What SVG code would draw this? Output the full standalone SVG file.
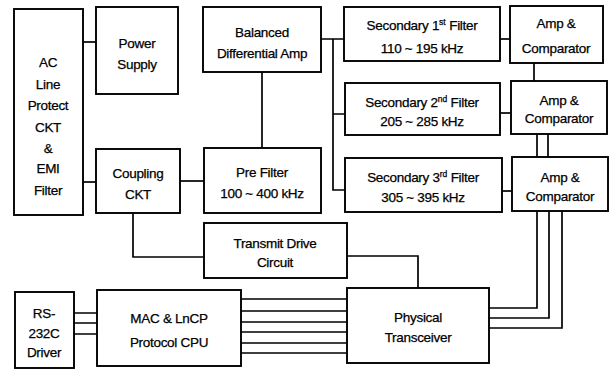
<svg xmlns="http://www.w3.org/2000/svg" width="611" height="369" viewBox="0 0 611 369">
<style>
rect{fill:#fff;stroke:#000;stroke-width:1.9}
.c{fill:none;stroke:#000;stroke-width:1.7}
text{font-family:"Liberation Sans",Arial,sans-serif;font-size:13.5px;letter-spacing:-0.3px;text-anchor:middle;fill:#000;stroke:#000;stroke-width:0.25}
.s{font-size:8.5px;letter-spacing:0}
</style>
<rect x="0" y="0" width="611" height="369" style="stroke:none"/>
<g id="connectors">
<path class="c" d="M83 42H96"/>
<path class="c" d="M83 182H96"/>
<path class="c" d="M180 181H204"/>
<path class="c" d="M262 72V148"/>
<path class="c" d="M321 39H344M333 39V190H345M333 114H345"/>
<path class="c" d="M500 39H510"/>
<path class="c" d="M500 113H511"/>
<path class="c" d="M502 191H512"/>
<path class="c" d="M534 63V81"/>
<path class="c" d="M537 134V157M548 134V157"/>
<path class="c" d="M133 213V257H204"/>
<path class="c" d="M347 256H418V288"/>
<path class="c" d="M74 313H97M74 323H97M74 334H97"/>
<path class="c" d="M241 299H347M241 311H347M241 322H347M241 332H347M241 343H347M241 353H347"/>
<path class="c" d="M489 308H537V211M489 318H549V211M489 328H562V211"/>
</g>
<g id="ac-line">
<rect x="14" y="9" width="69" height="206"/>
<text x="48" y="67">AC</text>
<text x="48" y="89">Line</text>
<text x="48" y="110">Protect</text>
<text x="48" y="132">CKT</text>
<text x="48" y="153">&amp;</text>
<text x="48" y="173">EMI</text>
<text x="48" y="195">Filter</text>
</g>
<g id="power-supply">
<rect x="96" y="7" width="82" height="87"/>
<text x="137" y="48">Power</text>
<text x="137" y="69">Supply</text>
</g>
<g id="coupling">
<rect x="96" y="149" width="84" height="64"/>
<text x="138" y="178">Coupling</text>
<text x="138" y="199">CKT</text>
</g>
<g id="balanced-amp">
<rect x="203" y="7" width="118" height="65"/>
<text x="262" y="37">Balanced</text>
<text x="262" y="58">Differential Amp</text>
</g>
<g id="pre-filter">
<rect x="204" y="148" width="117" height="65"/>
<text x="262" y="177">Pre Filter</text>
<text x="262" y="198">100 ~ 400 kHz</text>
</g>
<g id="sec1">
<rect x="344" y="7" width="156" height="54"/>
<text x="422" y="30">Secondary 1<tspan class="s" dy="-5">st</tspan><tspan dy="5"> Filter</tspan></text>
<text x="422" y="53">110 ~ 195 kHz</text>
</g>
<g id="sec2">
<rect x="345" y="83" width="155" height="52"/>
<text x="422" y="107">Secondary 2<tspan class="s" dy="-5">nd</tspan><tspan dy="5"> Filter</tspan></text>
<text x="422" y="126">205 ~ 285 kHz</text>
</g>
<g id="sec3">
<rect x="345" y="158" width="157" height="54"/>
<text x="423" y="182">Secondary 3<tspan class="s" dy="-5">rd</tspan><tspan dy="5"> Filter</tspan></text>
<text x="423" y="202">305 ~ 395 kHz</text>
</g>
<g id="amp1">
<rect x="510" y="6" width="93" height="57"/>
<text x="556" y="28">Amp &amp;</text>
<text x="556" y="53">Comparator</text>
</g>
<g id="amp2">
<rect x="511" y="81" width="96" height="53"/>
<text x="559" y="105">Amp &amp;</text>
<text x="559" y="123">Comparator</text>
</g>
<g id="amp3">
<rect x="512" y="157" width="96" height="54"/>
<text x="560" y="182">Amp &amp;</text>
<text x="560" y="201">Comparator</text>
</g>
<g id="transmit">
<rect x="204" y="223" width="143" height="55"/>
<text x="275" y="248">Transmit Drive</text>
<text x="275" y="267">Circuit</text>
</g>
<g id="rs232c">
<rect x="15" y="292" width="59" height="76"/>
<text x="44" y="318">RS-</text>
<text x="44" y="338">232C</text>
<text x="44" y="357">Driver</text>
</g>
<g id="mac">
<rect x="97" y="290" width="144" height="76"/>
<text x="169" y="323">MAC &amp; LnCP</text>
<text x="169" y="347">Protocol CPU</text>
</g>
<g id="physical">
<rect x="347" y="288" width="142" height="75"/>
<text x="418" y="322">Physical</text>
<text x="418" y="342">Transceiver</text>
</g>
</svg>
